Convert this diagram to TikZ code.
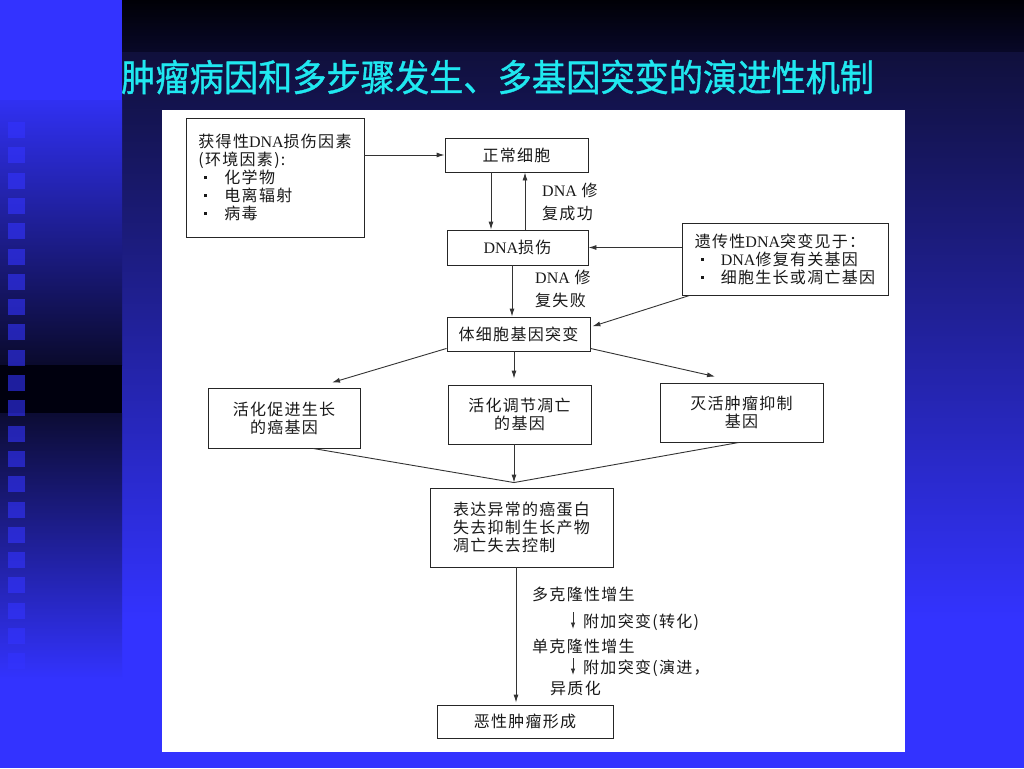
\documentclass[tikz,border=0pt]{standalone}
\usepackage{fontspec}
\usetikzlibrary{arrows.meta}
\setmainfont{Liberation Serif}
\newfontfamily\cjk[LetterSpace=8]{Noto Sans CJK SC}
\newfontfamily\cjktitle[FakeBold=1]{Noto Sans CJK SC}
\newcommand{\lat}[1]{{\rmfamily #1}}
\newcommand{\sqb}{\raisebox{4.5pt}{\rule{3pt}{3pt}}}
\definecolor{slblue}{RGB}{51,51,255}
\definecolor{navytop}{RGB}{16,16,60}
\definecolor{blacktop}{RGB}{0,0,6}
\definecolor{blackbot}{RGB}{8,8,40}
\definecolor{stripmid}{RGB}{10,10,44}
\definecolor{stripdark}{RGB}{0,0,14}
\definecolor{stripup}{RGB}{12,12,52}
\definecolor{titlecyan}{RGB}{32,232,240}
\tikzset{
  bx/.style={draw=black!85, line width=0.9pt, inner sep=0pt, text=black!90,
    font=\cjk\fontsize{16}{18}\selectfont, align=center},
  bxl/.style={bx, align=left},
  lbl/.style={inner sep=0pt, text=black!90, anchor=west, align=left,
    font=\cjk\fontsize{16}{23}\selectfont},
  arr/.style={draw=black!80, line width=0.9pt, -{Latex[length=8pt,width=5pt]}},
  arrs/.style={draw=black!80, line width=0.9pt, -{Latex[length=6.5pt,width=4.5pt]}},
  ln/.style={draw=black!80, line width=0.9pt},
}
\begin{document}
\begin{tikzpicture}[x=1pt,y=-1pt]
\useasboundingbox (0,0) rectangle (1024,768);
% background
\fill[slblue] (0,0) rectangle (1024,768);
\shade[top color=navytop, bottom color=slblue] (122,52) rectangle (1024,620);
\shade[top color=blacktop, bottom color=blackbot] (122,0) rectangle (1024,52);
\shade[top color=slblue!95!black, bottom color=stripmid] (0,100) rectangle (122,365);
\fill[stripdark] (0,365) rectangle (122,413);
\shade[top color=stripup, bottom color=slblue] (0,413) rectangle (122,680);
\foreach \i in {0,...,22}
  \fill[slblue, opacity=0.6] (8,{122+25.3*\i}) rectangle ++(17,16);
% title
\node[anchor=west, inner sep=0pt, text=titlecyan,
  font=\cjktitle\fontsize{37}{37}\selectfont] (T) at (121,77)
  {\scalebox{0.925}[1]{肿瘤病因和多步骤发生、多基因突变的演进性机制}};
% white panel
\fill[white] (162,110) rectangle (905,752);
% boxes
\node[bxl, minimum width=178pt, minimum height=119pt] (A) at (275,177.5)
  {获得性\lat{DNA}损伤因素\\(环境因素):\\
   \hspace*{6pt}\makebox[20pt][l]{\sqb}化学物\\
   \hspace*{6pt}\makebox[20pt][l]{\sqb}电离辐射\\
   \hspace*{6pt}\makebox[20pt][l]{\sqb}病毒};
\node[bx, minimum width=143pt, minimum height=34pt] (B) at (516.5,155) {正常细胞};
\node[bx, minimum width=141pt, minimum height=35pt] (C) at (517.5,247.5) {\lat{DNA}损伤};
\node[bx, minimum width=143pt, minimum height=34pt] (D) at (518.5,334) {体细胞基因突变};
\node[bxl, minimum width=206pt, minimum height=72pt] (E) at (785,259)
  {遗传性\lat{DNA}突变见于：\\
   \hspace*{6pt}\makebox[20pt][l]{\sqb}\lat{DNA}修复有关基因\\
   \hspace*{6pt}\makebox[20pt][l]{\sqb}细胞生长或凋亡基因};
\node[bx, minimum width=152pt, minimum height=60pt] (F) at (284,418) {活化促进生长\\的癌基因};
\node[bx, minimum width=143pt, minimum height=59pt] (G) at (519.5,414.5) {活化调节凋亡\\的基因};
\node[bx, minimum width=163pt, minimum height=59pt] (H) at (741.5,412.5) {灭活肿瘤抑制\\基因};
\node[bxl, minimum width=183pt, minimum height=79pt] (I) at (521.5,527.5)
  {表达异常的癌蛋白\\失去抑制生长产物\\凋亡失去控制};
\node[bx, minimum width=176pt, minimum height=33pt] (J) at (525,721.5) {恶性肿瘤形成};
% labels
\node[lbl] (L1) at (542,202) {\lat{DNA} 修\\复成功};
\node[lbl] (L2) at (535,289) {\lat{DNA} 修\\复失败};
\node[lbl] (t1) at (532,594) {多克隆性增生};
\node[lbl] (t2) at (583,622) {附加突变(转化)};
\node[lbl] (t3) at (532,646) {单克隆性增生};
\node[lbl] (t4) at (583,668) {附加突变(演进，};
\node[lbl] (t5) at (550,688) {异质化};
% connectors
\draw[arr] (A.east |- B.west) -- (B.west);
\draw[arr] ([xshift=-25.5pt]B.south) -- ([xshift=-25.5pt]B.south |- C.north);
\draw[arr] ([xshift=7.5pt]C.north) -- ([xshift=7.5pt]C.north |- B.south);
\draw[arr] ([xshift=-5.5pt]C.south) -- ([xshift=-5.5pt]C.south |- D.north);
\draw[arr] (E.west |- C.east) -- (C.east);
\draw[arr, shorten >=2pt] ([xshift=8pt]E.south west) -- ([yshift=7pt]D.east);
\draw[arr] ([yshift=3pt]D.south west) -- ([xshift=48pt,yshift=5pt]F.north);
\draw[arr, shorten >=6pt] ([xshift=-4.5pt]D.south) -- ([xshift=-4.5pt]D.south |- G.north);
\draw[arr] ([yshift=3pt]D.south east) -- ([xshift=-26.5pt,yshift=6pt]H.north);
\coordinate (m) at ([xshift=-7.5pt,yshift=5pt]I.north);
\draw[ln] ([xshift=29pt]F.south) -- (m);
\draw[ln] ([xshift=-2.5pt]H.south) -- (m);
\draw[arr] (G.south -| m) -- (m);
\draw[arr, shorten >=2pt] ([xshift=-5.5pt]I.south) -- ([xshift=-5.5pt]I.south |- J.north);
\draw[arrs] ([xshift=-10pt,yshift=10pt]t2.west) -- ([xshift=-10pt,yshift=-7pt]t2.west);
\draw[arrs] ([xshift=-10pt,yshift=10pt]t4.west) -- ([xshift=-10pt,yshift=-7pt]t4.west);
\end{tikzpicture}
\end{document}
